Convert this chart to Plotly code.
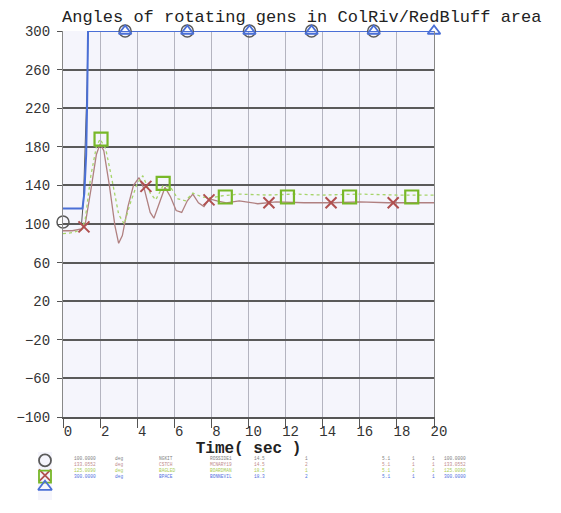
import plotly.graph_objects as go

title = 'Angles of rotating gens in ColRiv/RedBluff area'
W, H = 561, 513
OFF = 8  # page body margin

# curves (time in sec, angle in deg)
t_grey = [0, 1.0, 1.1, 1.2, 1.3, 1.35, 20]
a_grey = [100, 100, 125, 175, 245, 300, 300]
t_blue = [0, 1.05, 1.15, 1.25, 1.3, 1.35, 20]
a_blue = [116, 116, 132, 172, 225, 300, 300]
t_red = [0, 0.5, 1.0, 1.2, 1.5, 1.8, 2.0, 2.2, 2.5, 2.8, 3.0, 3.2, 3.5, 3.8, 4.1, 4.4, 4.7, 4.9, 5.2,
         5.5, 5.8, 6.1, 6.4, 6.7, 7.0, 7.3, 7.6, 7.9, 8.3, 8.8, 9.5, 10.5, 11.5, 13, 14.5, 16, 17.5, 19, 20]
a_red = [93, 93, 95, 100, 135, 172, 183, 176, 140, 98, 80, 88, 118, 140, 148, 135, 112, 106, 122,
         138, 128, 114, 112, 124, 131, 122, 118, 126, 124, 122, 124, 121, 123, 122, 122, 123, 122, 122, 122]
t_green = [0, 0.5, 1.0, 1.2, 1.5, 1.8, 2.0, 2.3, 2.6, 3.0, 3.3, 3.6, 4.0, 4.3, 4.7, 5.0, 5.4, 5.8,
           6.2, 6.6, 7.0, 7.5, 8.0, 8.5, 9.5, 11, 12.5, 14, 16, 18, 20]
a_green = [90, 91, 94, 105, 150, 180, 188, 178, 150, 110, 100, 120, 142, 150, 132, 125, 140, 138,
           126, 124, 132, 128, 127, 129, 131, 130, 131, 130, 131, 130, 130]

# marker positions
mt_grey = [0, 3.35, 6.7, 10.05, 13.4, 16.75]
ma_grey = [102, 300, 300, 300, 300, 300]
mt_red = [1.13, 4.47, 7.87, 11.1, 14.45, 17.8]
ma_red = [97, 139, 125, 122, 122, 122]
mt_green = [2.05, 5.4, 8.75, 12.1, 15.45, 18.8]
ma_green = [188, 142, 128, 128, 128, 128]
mt_blue = [3.35, 6.7, 10.05, 13.4, 16.75, 20]
ma_blue = [300, 300, 300, 300, 300, 300]

y_ticks = [-100, -60, -20, 20, 60, 100, 140, 180, 220, 260, 300]
x_ticks = [0, 2, 4, 6, 8, 10, 12, 14, 16, 18, 20]

legend_rows = [
    ['100.0000', 'deg', 'NGKIT', 'ROSSIDE1', '14.5', '1', '5.1', '1', '1', '100.0000'],
    ['133.0552', 'deg', 'CSTCH', 'MCNARY19', '14.5', '2', '5.1', '1', '1', '133.0552'],
    ['125.0090', 'deg', 'BAGLED', 'BOARDMAN', '18.5', '1', '5.1', '1', '1', '125.0090'],
    ['300.0000', 'deg', 'BPACE', 'BONNEVIL', '18.3', '2', '5.1', '1', '1', '300.0000'],
]
legend_marker_row = [0, 1.25, 1.35, 2.2]

grey, red, green, blue = '#5a5a5a', '#b05050', '#78b828', '#4a6fd6'
mono = 'Liberation Mono, DejaVu Sans Mono, monospace'


def px(x):
    return (x - OFF) / W


def py(y):
    return 1 - (y - OFF) / H


fig = go.Figure()
fig.add_trace(go.Scatter(x=t_grey, y=a_grey, mode='lines', line=dict(color=grey, width=1)))
fig.add_trace(go.Scatter(x=t_red, y=a_red, mode='lines', line=dict(color='#b08080', width=1.3)))
fig.add_trace(go.Scatter(x=t_green, y=a_green, mode='lines', line=dict(color='#a6d46a', width=1.3, dash='dot')))
fig.add_trace(go.Scatter(x=t_blue, y=a_blue, mode='lines', line=dict(color=blue, width=2)))

fig.add_trace(go.Scatter(x=mt_grey, y=ma_grey, mode='markers', cliponaxis=False,
                         marker=dict(symbol='circle-open', size=12, color=grey, line=dict(width=1.5))))
fig.add_trace(go.Scatter(x=mt_red, y=ma_red, mode='markers', cliponaxis=False,
                         marker=dict(symbol='x-thin-open', size=11, color=red, line=dict(width=2))))
fig.add_trace(go.Scatter(x=mt_green, y=ma_green, mode='markers', cliponaxis=False,
                         marker=dict(symbol='square-open', size=13, color=green, line=dict(width=2.2))))
fig.add_trace(go.Scatter(x=mt_blue, y=ma_blue, mode='markers', cliponaxis=False,
                         marker=dict(symbol='triangle-up-open', size=11, color=blue, line=dict(width=1.8))))

# legend symbols on a small helper axis
leg_sym = [('circle-open', grey), ('x-thin-open', red), ('square-open', green), ('triangle-up-open', blue)]
for (sym, col), r in zip(leg_sym, legend_marker_row):
    fig.add_trace(go.Scatter(x=[0.5], y=[r], mode='markers', xaxis='x2', yaxis='y2', cliponaxis=False,
                             marker=dict(symbol=sym, size=12, color=col, line=dict(width=1.8))))

# legend text rows
row_cols = ['#808080', '#c08a8a', '#a8cc50', '#5070e0']
col_x = [72, 113, 157, 208, 252, 303, 380, 410, 430, 442]
for i, row in enumerate(legend_rows):
    for j, txt in enumerate(row):
        fig.add_annotation(text=txt, xref='paper', yref='paper', x=px(col_x[j]), y=py(458 + 6 * i),
                           xanchor='left', yanchor='middle', showarrow=False,
                           font=dict(family=mono, size=4.5, color=row_cols[i]))

fig.add_annotation(text=title, xref='paper', yref='paper', x=px(60), y=py(17),
                   xanchor='left', yanchor='middle', showarrow=False,
                   font=dict(family=mono, size=17, color='#222'))

fig.update_layout(
    width=W, height=H, showlegend=False,
    margin=dict(l=0, r=0, t=0, b=0, autoexpand=False),
    paper_bgcolor='white', plot_bgcolor='#f5f5fc',
    xaxis=dict(domain=[px(63), px(434)], range=[0, 20], tickvals=x_ticks,
               ticks='outside', ticklen=9, tickcolor='#555', ticklabelshift=5, ticklabelstandoff=-9,
               showgrid=True, gridcolor='#b4b4c0', gridwidth=1, zeroline=False,
               showline=True, linecolor='#555', linewidth=1.5, mirror=False,
               tickfont=dict(family=mono, size=14, color='#333'),
               title=dict(text='<b>Time( sec )</b>', standoff=0, font=dict(family=mono, size=16, color='#222'))),
    yaxis=dict(domain=[py(417), py(31)], range=[-100, 300], tickvals=y_ticks,
               ticks='outside', ticklen=5, tickcolor='#555', ticklabelstandoff=4,
               showgrid=True, gridcolor='#5a5a5a', gridwidth=1.5, zeroline=False,
               showline=True, linecolor='#888', linewidth=1.2, mirror=True,
               tickfont=dict(family=mono, size=14, color='#333')),
    xaxis2=dict(domain=[px(38), px(52)], range=[0, 1], visible=False, anchor='y2'),
    yaxis2=dict(domain=[py(500), py(452)], range=[3.3, -0.7], visible=False, anchor='x2'),
)

fig.write_html('out.html')
